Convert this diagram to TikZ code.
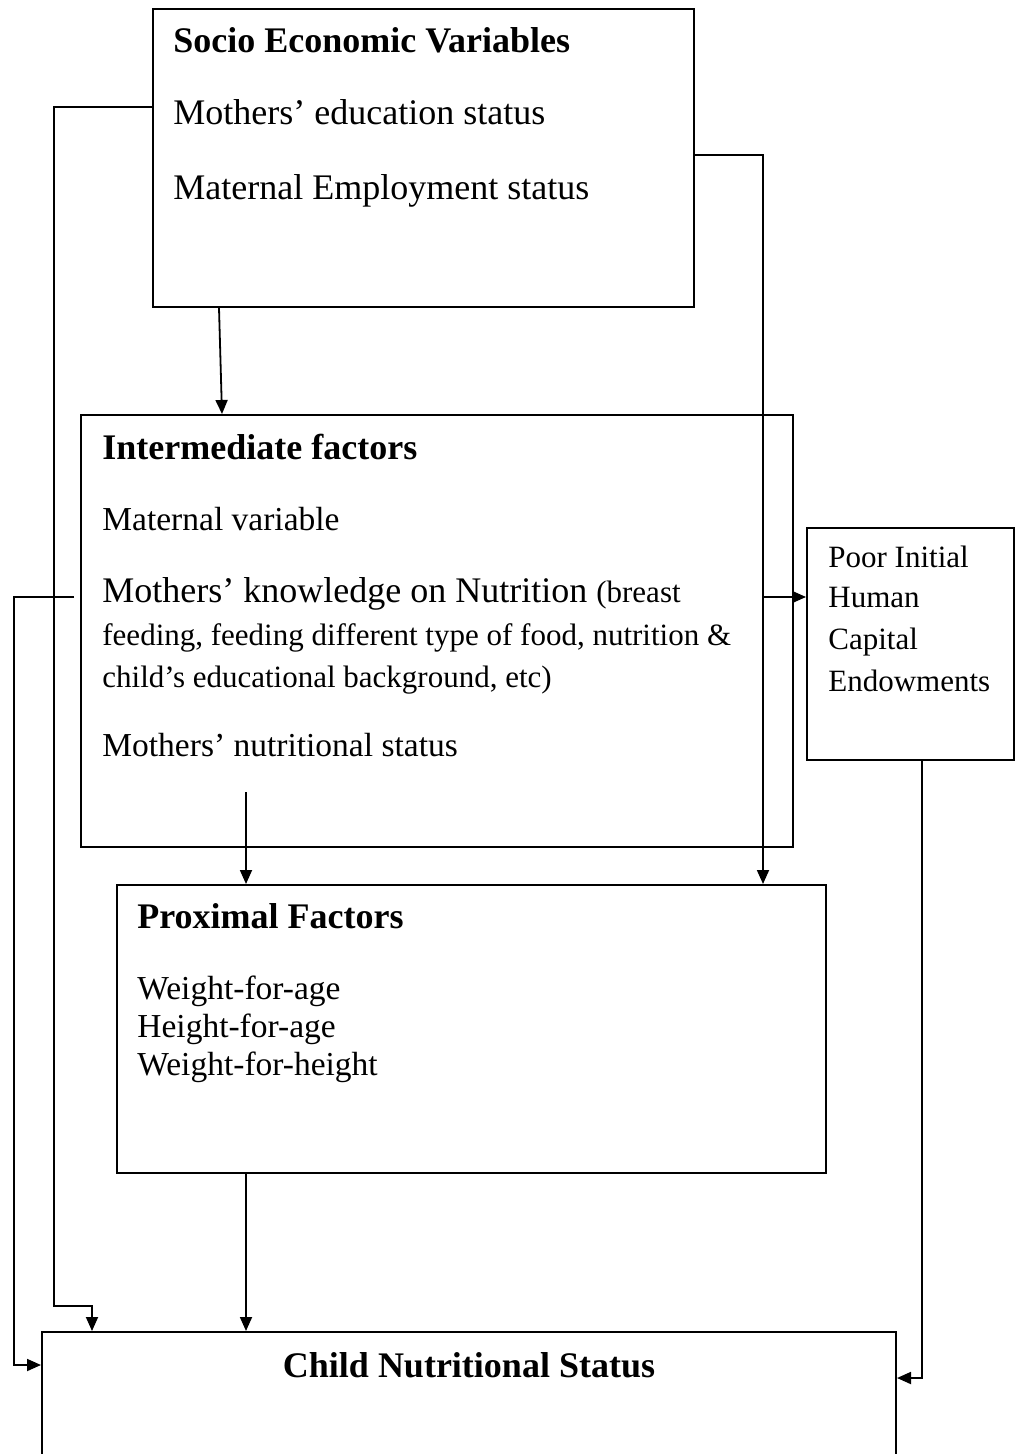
\documentclass[tikz,border=0pt]{standalone}
\usepackage{fontspec}
\setmainfont{Liberation Serif}
\usetikzlibrary{arrows.meta,fit}
\tikzset{
  box/.style={draw, line width=1pt, inner sep=0pt, rectangle},
  arr/.style={line width=0.9pt, -{Triangle[length=7pt,width=6pt]}},
  txt/.style={anchor=base west, inner sep=0pt},
  ttl/.style={txt, font=\fontsize{18}{21}\selectfont\bfseries},
  big/.style={txt, font=\fontsize{18}{21}\selectfont},
  med/.style={txt, font=\fontsize{16.75}{20}\selectfont},
  sml/.style={txt, font=\fontsize{15.5}{18}\selectfont},
}
\begin{document}
\begin{tikzpicture}[x=0.5pt,y=-0.5pt]
\useasboundingbox (0,0) rectangle (1015,1454);
\clip (0,0) rectangle (1015,1454);
\fill[white] (0,0) rectangle (1015,1454);
% boxes
\node[box, fit={(153,9) (694,307)}] (soc) {};
\node[box, fit={(81,415) (793,847)}] (inter) {};
\node[box, fit={(807,528) (1014,760)}] (poor) {};
\node[box, fit={(117,885) (826,1173)}] (prox) {};
\node[box, fit={(42,1332) (896,1480)}] (child) {};
% texts
\node[ttl] (t1) at (173,53) {Socio Economic Variables};
\node[big] (t2) at (173,125) {Mothers’ education status};
\node[big] (t3) at (173,200) {Maternal Employment status};
\node[ttl] (t4) at (102,459) {Intermediate factors};
\node[med] (t5) at (102,530) {Maternal variable};
\node[txt] (t6) at (102,602) {\fontsize{18}{21}\selectfont Mothers’ knowledge on Nutrition \fontsize{15.5}{18}\selectfont(breast};
\node[sml] (t7) at (102,645) {feeding, feeding different type of food, nutrition \&};
\node[sml] (t8) at (102,687) {child’s educational background, etc)};
\node[med] (t9) at (102,756) {Mothers’ nutritional status};
\node[sml] (p1) at (828,567) {Poor Initial};
\node[sml] (p2) at (828,607) {Human};
\node[sml] (p3) at (828,649) {Capital};
\node[sml] (p4) at (828,691) {Endowments};
\node[ttl] (x1) at (137,928) {Proximal Factors};
\node[med] (x2) at (137,999) {Weight-for-age};
\node[med] (x3) at (137,1037) {Height-for-age};
\node[med] (x4) at (137,1075) {Weight-for-height};
\node[ttl, anchor=base] (c1) at (469,1377) {Child Nutritional Status};
% free ends
\coordinate (kl) at (74,597);
\coordinate (jr) at (763,597);
\coordinate (ns) at (246,792);
% connectors
\draw[arr] (soc.west |- 0,107) -- (54,107) -- (54,1306) -- (92,1306) -- (child.north -| 92,0);
\draw[arr] (soc.east |- 0,155) -| (prox.north -| 763,0);
\draw[arr] (soc.south -| 219,0) -- (inter.north -| 222,0);
\draw[arr] (kl) -- (14,597) -- (14,1365) -- (child.west |- 0,1365);
\draw[arr] (jr) -- (poor.west |- jr);
\draw[arr] (ns) -- (prox.north -| ns);
\draw[arr] (prox.south -| 246,0) -- (child.north -| 246,0);
\draw[arr] (poor.south -| 922,0) |- (child.east |- 0,1378);
\end{tikzpicture}
\end{document}
